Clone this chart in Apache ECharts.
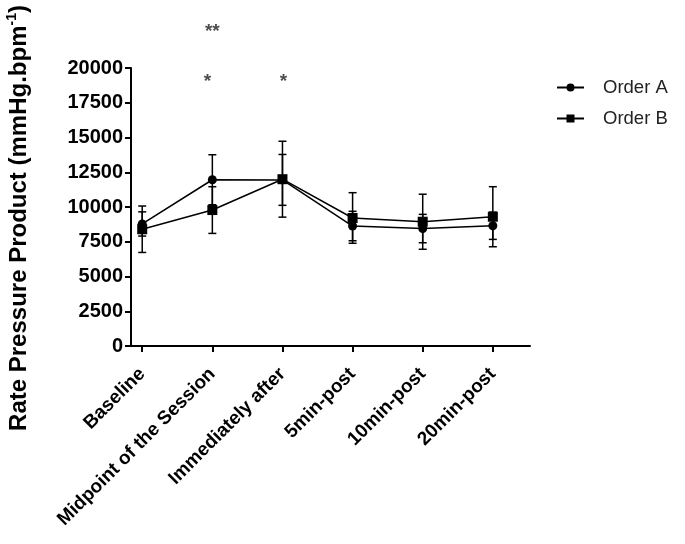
<!DOCTYPE html>
<html>
<head>
<meta charset="utf-8">
<script src="https://cdn.jsdelivr.net/npm/echarts@6/dist/echarts.min.js"></script>
<style>
html,body{margin:0;padding:0;background:#fff;}
#chart{width:685px;height:544px;}
</style>
</head>
<body>
<div id="chart"></div>
<script>
const categories = ['Baseline', 'Midpoint of the Session', 'Immediately after', '5min-post', '10min-post', '20min-post'];
const orderA = [8780, 11960, 11950, 8630, 8450, 8650];
const orderAErr = [870, 1800, 1830, 1060, 1020, 980];
const orderB = [8400, 9780, 12000, 9210, 8940, 9300];
const orderBErr = [1670, 1680, 2730, 1820, 1980, 2160];
const yMin = 0, yMax = 20000, yStep = 2500;
const sigText = ['**', '*', '*'];
const sigCat = [1, 1, 2];
const sigValue = [22600, 19000, 19000];

const FONT = 'Liberation Sans, Arial, sans-serif';
const sigOffsets = [[0, 0], [-5, 0], [1, 0]];

function pts(vals) { return vals.map((v, i) => [i, v]); }
function errs(vals, e) { return vals.map((v, i) => [i, v - e[i], v + e[i]]); }

function errRender(params, api) {
  const x = api.value(0);
  const lo = api.coord([x, api.value(1)]);
  const hi = api.coord([x, api.value(2)]);
  const h = 4;
  const st = { stroke: '#000', lineWidth: 1.5 };
  return {
    type: 'group',
    children: [
      { type: 'line', shape: { x1: lo[0], y1: lo[1], x2: hi[0], y2: hi[1] }, style: st },
      { type: 'line', shape: { x1: hi[0] - h, y1: hi[1], x2: hi[0] + h, y2: hi[1] }, style: st },
      { type: 'line', shape: { x1: lo[0] - h, y1: lo[1], x2: lo[0] + h, y2: lo[1] }, style: st }
    ]
  };
}

const chart = echarts.init(document.getElementById('chart'), null, { renderer: 'canvas' });
chart.setOption({
  animation: false,
  backgroundColor: '#fff',
  grid: { left: 131, right: 155, top: 68, bottom: 198, containLabel: false },
  legend: {
    data: ['Order A', 'Order B'],
    orient: 'vertical',
    left: 551,
    top: 73,
    itemWidth: 27,
    itemHeight: 10,
    itemGap: 12,
    textStyle: { fontFamily: FONT, fontSize: 18.5, color: '#222', padding: [0, 0, 0, 14] }
  },
  xAxis: {
    type: 'value',
    min: -0.16,
    max: 5.53,
    splitLine: { show: false },
    axisLine: { show: true, onZero: false, lineStyle: { color: '#000', width: 2 } },
    axisTick: { show: true, customValues: [0, 1, 2, 3, 4, 5], length: 6, lineStyle: { color: '#000', width: 2 } },
    axisLabel: {
      show: true,
      customValues: [0, 1, 2, 3, 4, 5],
      formatter: v => categories[Math.round(v)],
      rotate: 45,
      margin: 25,
      fontFamily: FONT,
      fontSize: 19,
      fontWeight: 'bold',
      color: '#000'
    }
  },
  yAxis: {
    type: 'value',
    min: yMin,
    max: yMax,
    interval: yStep,
    splitLine: { show: false },
    axisLine: { show: true, onZero: false, lineStyle: { color: '#000', width: 2 } },
    axisTick: { show: true, length: 6, lineStyle: { color: '#000', width: 2 } },
    axisLabel: { fontFamily: FONT, fontSize: 20, fontWeight: 'bold', color: '#000', margin: 8, formatter: v => String(v) }
  },
  graphic: [{
    type: 'text',
    x: 19,
    y: 218,
    rotation: Math.PI / 2,
    style: {
      text: '{a|Rate Pressure Product (mmHg.bpm}{s|-1}{a|)}',
      align: 'center',
      verticalAlign: 'middle',
      rich: {
        a: { fontFamily: FONT, fontSize: 24, fontWeight: 'bold', fill: '#000' },
        s: { fontFamily: FONT, fontSize: 14, fontWeight: 'bold', fill: '#000', padding: [0, 0, 14, 0] }
      }
    }
  }],
  series: [
    {
      name: 'Order A', type: 'line', data: pts(orderA),
      symbol: 'circle', symbolSize: 9,
      lineStyle: { color: '#000', width: 1.5 },
      itemStyle: { color: '#000' }, z: 3
    },
    {
      name: 'Order B', type: 'line', data: pts(orderB),
      symbol: 'rect', symbolSize: 10,
      lineStyle: { color: '#000', width: 1.5 },
      itemStyle: { color: '#000' }, z: 3
    },
    { name: 'errA', type: 'custom', renderItem: errRender, data: errs(orderA, orderAErr), z: 2, silent: true },
    { name: 'errB', type: 'custom', renderItem: errRender, data: errs(orderB, orderBErr), z: 2, silent: true },
    {
      name: 'sig', type: 'scatter', clip: false, symbolSize: 1,
      itemStyle: { color: 'rgba(0,0,0,0)' },
      data: sigText.map((t, i) => ({
        value: [sigCat[i], sigValue[i]],
        label: { show: true, formatter: t, position: 'inside', offset: sigOffsets[i], fontFamily: FONT, fontSize: 19, fontWeight: 'bold', color: '#222' }
      })),
      z: 4
    }
  ]
});
</script>
</body>
</html>
